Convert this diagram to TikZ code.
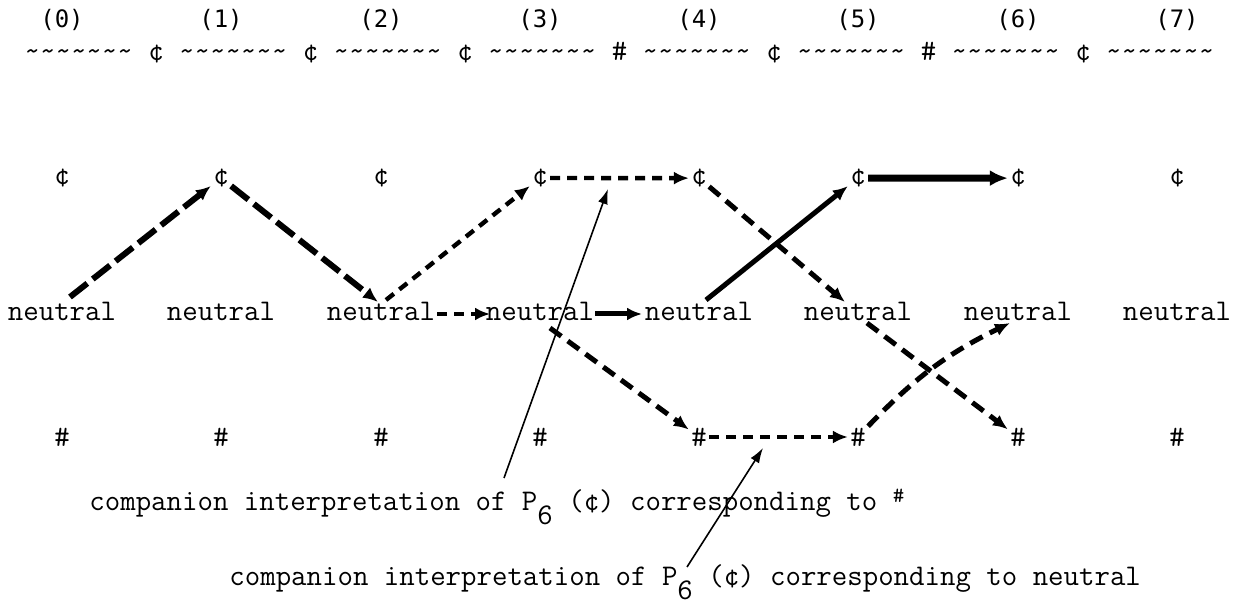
\documentclass[tikz,border=0pt]{standalone}
\usepackage{fontspec}
\setmonofont{Latin Modern Mono}
\usetikzlibrary{arrows.meta}
\newfontfamily\hdrfont{DejaVu Sans Mono}
\newcommand\wavy{\textasciitilde\textasciitilde\textasciitilde\textasciitilde\textasciitilde\textasciitilde\textasciitilde}
\begin{document}
\begin{tikzpicture}[x=0.5pt,y=-0.5pt,
  tt/.style={font=\fontsize{15}{18}\selectfont\ttfamily, inner sep=0pt},
  symb/.style={tt, inner sep=1pt},
  word/.style={tt, anchor=base},
  hdr/.style={font=\fontsize{12}{14}\selectfont\hdrfont, inner sep=0pt},
  note/.style={tt, anchor=base west},
  headA/.style={-{Latex[length=7.5pt,width=6.5pt]}},
  longdash/.style={headA, line width=3pt, dash pattern=on 11pt off 3.5pt},
  meddash/.style={headA, line width=2.5pt, dash pattern=on 7pt off 4pt},
  shortdash/.style={headA, line width=2.2pt, dash pattern=on 5pt off 3.5pt},
  solidarr/.style={headA, line width=2.5pt},
  heavyarr/.style={-{Latex[length=9pt,width=8pt]}, line width=3.5pt},
  pointer/.style={-{Latex[length=7.5pt,width=5pt]}, line width=0.8pt},
]
\useasboundingbox (0,0) rectangle (1244,609);
\foreach \i/\x in {0/62,1/221,2/381,3/540,4/699,5/858,6/1018,7/1177}{
  \node[hdr] (l\i) at (\x,20) {(\i)};
  \node[symb] (c\i) at (\x,178) {¢};
  \node[word] (n\i) at (\x,321) {neutral};
  \node[symb] (h\i) at (\x,437) {\#};
}
\node[tt, anchor=base] (tl) at (619.5,61) {\wavy{} ¢ \wavy{} ¢ \wavy{} ¢ \wavy{} \# \wavy{} ¢ \wavy{} \# \wavy{} ¢ \wavy};

\node[note] (t1) at (89,510) {companion interpretation of P\raisebox{-7pt}{6} (¢) corresponding to \raisebox{4pt}{\fontsize{11}{12}\selectfont\#}};
\node[note] (t2) at (229,586) {companion interpretation of P\raisebox{-7pt}{6} (¢) corresponding to neutral};
\coordinate (a1) at (608,189);
\coordinate (a2) at (763,448);

% connectors
\draw[longdash] ([shift={(8,-24)}]n0.base) -- ([shift={(-3,6)}]c1);
\draw[longdash] ([shift={(11,12)}]c1) -- ([shift={(-3,-19)}]n2.base);
\draw[shortdash] ([shift={(5,-21)}]n2.base) -- ([shift={(-7,6)}]c3);
\draw[shortdash] ([shift={(8,2)}]c3) -- ([shift={(-7,2)}]c4);
\draw[shortdash] ([shift={(56,-7)}]n2.base) -- ([shift={(-50,-7)}]n3.base);
\draw[solidarr] ([shift={(55,-7)}]n3.base) -- ([shift={(-57,-7)}]n4.base);
\draw[meddash] ([shift={(10,7)}]n3.base) -- ([shift={(-9,-3)}]h4);
\draw[shortdash] ([shift={(8,0)}]h4) -- ([shift={(-6,0)}]h5);
\draw[meddash] ([shift={(10,-2)}]h5) to[bend left=10] ([shift={(-8,2)}]n6.base);
\draw[solidarr] ([shift={(7,-21)}]n4.base) -- ([shift={(-6,9)}]c5);
\draw[heavyarr] ([shift={(14,2)}]c5) -- ([shift={(-6,2)}]c6);
\draw[meddash] ([shift={(4,12)}]c4) -- ([shift={(-13,-19)}]n5.base);
\draw[meddash] ([shift={(9,2)}]n5.base) -- ([shift={(-6,-4)}]h6);

% pointers
\draw[pointer] ([shift={(415,-32)}]t1.base west) -- (a1);
\draw[pointer] ([shift={(458,-19)}]t2.base west) -- (a2);
\end{tikzpicture}
\end{document}
